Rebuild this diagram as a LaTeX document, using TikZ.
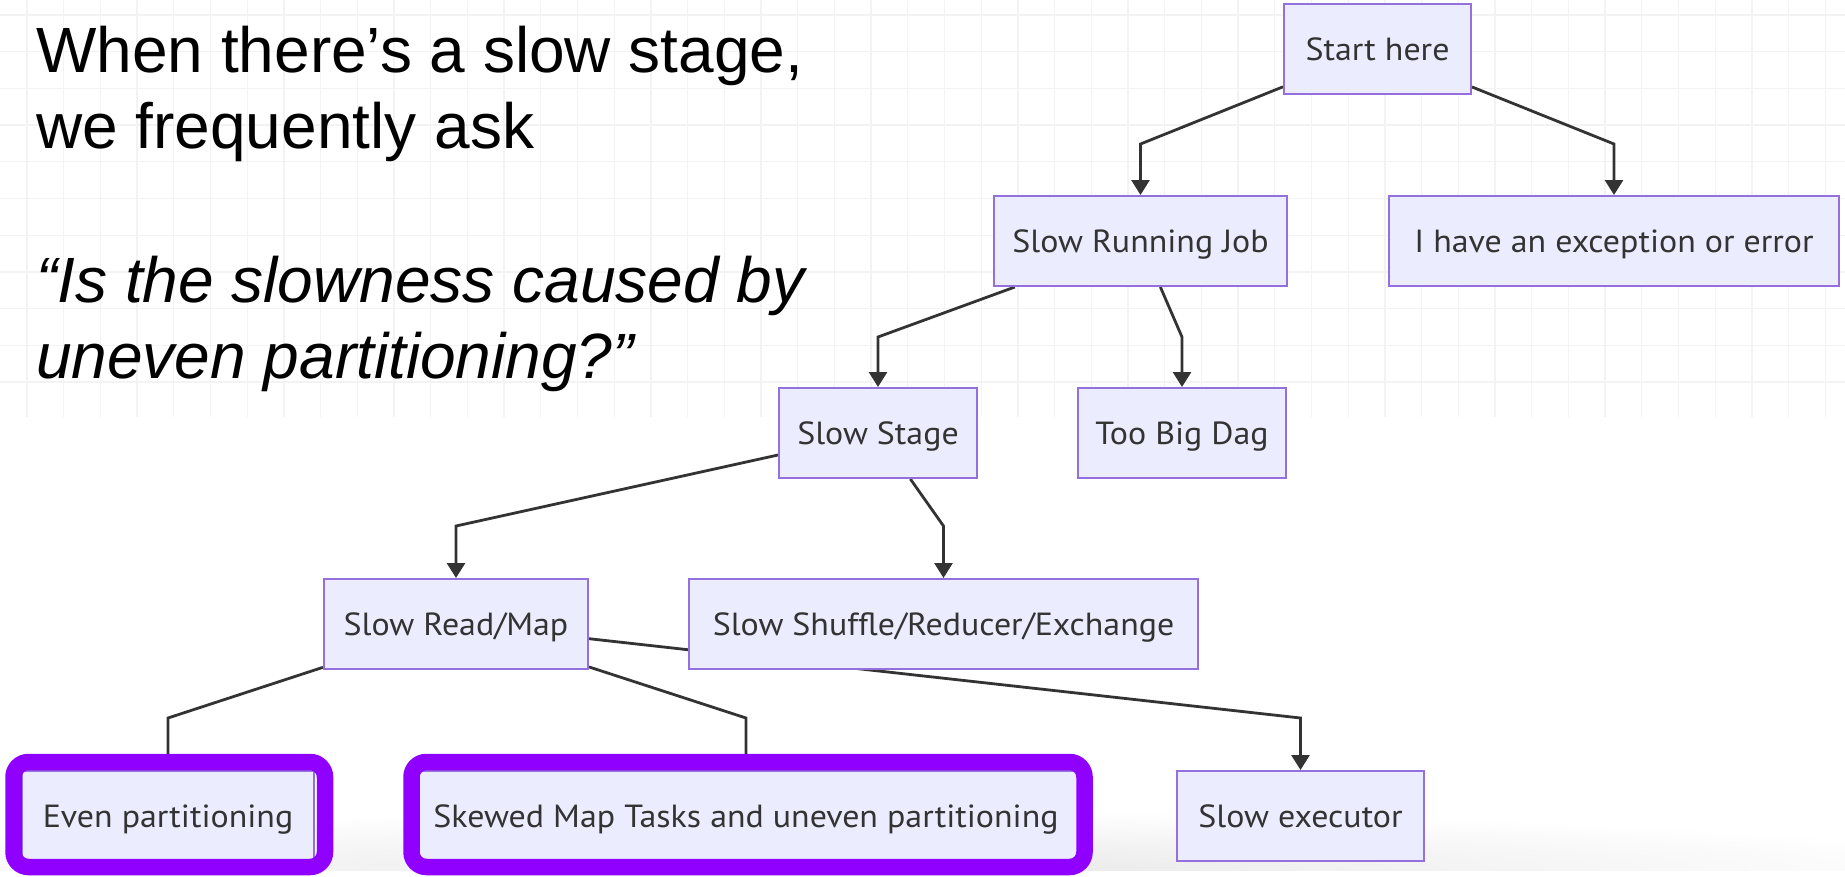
\documentclass[tikz,border=0pt]{standalone}
\usepackage{fontspec}
\setmainfont{Liberation Sans}
\newfontfamily\nodefont[FakeStretch=1.06]{PT Sans}
\usetikzlibrary{arrows.meta,calc}

\definecolor{nodefill}{HTML}{ECECFF}
\definecolor{nodeline}{HTML}{9370DB}
\definecolor{edgecol}{HTML}{333333}
\definecolor{hilite}{HTML}{9000FF}
\definecolor{gridcol}{HTML}{F3F3F3}

\pgfdeclarelayer{grid}
\pgfdeclarelayer{edges}
\pgfdeclarelayer{top}
\pgfsetlayers{grid,edges,main,top}

\begin{document}
\begin{tikzpicture}[x=1pt, y=-1pt,
  box/.style={draw=nodeline, fill=nodefill, line width=2pt, inner sep=0pt,
    text=edgecol, font=\nodefont\fontsize{32}{38}\selectfont,
    text height=22.4pt, text depth=0pt, minimum height=90pt},
  edge/.style={draw=edgecol, line width=2.8pt, -{Triangle[length=15pt,width=18pt]}},
  ring/.style={draw=hilite, line width=16.5pt, rounded corners=15pt},
  headline/.style={anchor=base west, inner sep=0pt, font=\fontsize{64}{76}\selectfont},
  quoteline/.style={anchor=base west, inner sep=0pt, font=\itshape\fontsize{64}{76}\selectfont}
]
\useasboundingbox (0,0) rectangle (1845,876);

% white page with faint squared paper behind the upper part
\begin{pgfonlayer}{grid}
  \fill[white] (0,0) rectangle (1845,876);
  \foreach \i in {0,...,49}
    \draw[gridcol, line width=1.3pt] ({27+36.7*\i},0) -- ({27+36.7*\i},417);
  \foreach \j in {0,...,10}
    \draw[gridcol, line width=1.3pt] (0,{15+36.7*\j}) -- (1845,{15+36.7*\j});
  % soft shadow along the lower edge
  \begin{scope}
    \clip (0,0) rectangle (1845,870);
    \shade[inner color=black!9, outer color=white] (-275,810) rectangle (2025,930);
  \end{scope}
\end{pgfonlayer}

% heading text
\node[headline] (l1) at (36,72) {When there’s a slow stage,};
\node[headline] (l2) at (36,148) {we frequently ask};
\node[quoteline] (l3) at (36,302) {“Is the slowness caused by};
\node[quoteline] (l4) at (36,378) {uneven partitioning?”};

% decision tree nodes
\node[box, minimum width=187pt] (start)   at (1377.5,49)  {Start here};
\node[box, minimum width=293pt] (srj)     at (1140.5,241) {Slow Running Job};
\node[box, minimum width=450pt] (exc)     at (1614,241)   {I have an exception or error};
\node[box, minimum width=198pt] (stage)   at (878,433)    {Slow Stage};
\node[box, minimum width=208pt] (dag)     at (1182,433)   {Too Big Dag};
\node[box, minimum width=264pt] (readmap) at (456,624)    {Slow Read/Map};
\node[box, minimum width=509pt] (shuffle) at (943.5,624)  {Slow Shuffle/Reducer/Exchange};
\node[box, minimum width=292pt] (even)    at (168,816)    {Even partitioning};
\node[box, minimum width=663pt] (skewed)  at (746,816)    {Skewed Map Tasks and uneven partitioning};
\node[box, minimum width=247pt] (exec)    at (1300.5,816) {Slow executor};

% connectors, kept under the boxes
\begin{pgfonlayer}{edges}
  \draw[edge] (start)   -- ($(srj.north)+(0,-51)$)     -- (srj);
  \draw[edge] (start)   -- ($(exc.north)+(0,-51)$)     -- (exc);
  \draw[edge] (srj)     -- ($(stage.north)+(0,-50)$)   -- (stage);
  \draw[edge] (srj)     -- ($(dag.north)+(0,-50)$)     -- (dag);
  \draw[edge] (stage)   -- ($(readmap.north)+(0,-52)$) -- (readmap);
  \draw[edge] (stage)   -- ($(shuffle.north)+(0,-52)$) -- (shuffle);
  \draw[edge] (readmap) -- ($(even.north)+(0,-52)$)    -- (even);
  \draw[edge] (readmap) -- ($(skewed.north)+(0,-52)$)  -- (skewed);
  \draw[edge] (readmap) -- ($(exec.north)+(0,-52)$)    -- (exec);
\end{pgfonlayer}

% highlight frames round the two partitioning outcomes
\begin{pgfonlayer}{top}
  \draw[ring] ([xshift=-7.5pt,yshift=8pt]even.north west)
    rectangle ([xshift=10pt,yshift=-5pt]even.south east);
  \draw[ring] ([xshift=-2pt,yshift=8pt]skewed.north west)
    rectangle ([xshift=6pt,yshift=-5pt]skewed.south east);
\end{pgfonlayer}
\end{tikzpicture}
\end{document}
